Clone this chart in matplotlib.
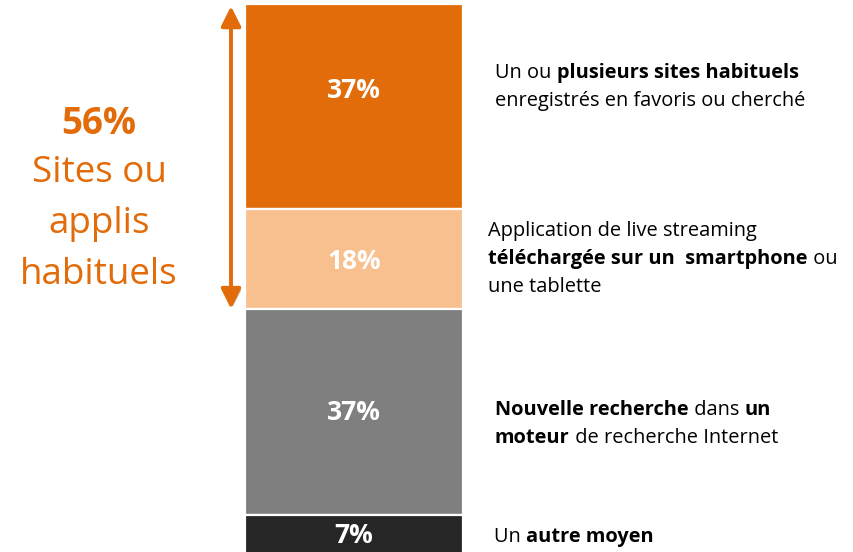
import matplotlib
matplotlib.use('Agg')
import matplotlib.pyplot as plt
import matplotlib.patheffects as pe
from matplotlib.offsetbox import TextArea, HPacker, VPacker, AnnotationBbox
import numpy as np

plt.rcParams['font.family'] = ['Open Sans', 'DejaVu Sans']

# --- DONNÉES ---
parts = [37, 18, 37, 7]
part_labels = ['37%', '18%', '37%', '7%']
colors = ['#E36C0A', '#F9C08F', '#7F7F7F', '#262626']

# descriptions (texte, gras ?) par ligne
descriptions = [
    [[('Un ou ', False), ('plusieurs sites habituels', True)],
     [('enregistrés en favoris ou cherché', False)]],
    [[('Application de live streaming', False)],
     [('téléchargée sur un  smartphone', True), (' ou', False)],
     [('une tablette', False)]],
    [[('Nouvelle recherche', True), (' dans ', False), ('un', True)],
     [('moteur', True), (' de recherche Internet', False)]],
    [[('Un ', False), ('autre moyen', True)]],
]
habit_share = 56
habit_lines = ['Sites ou', 'applis', 'habituels']

# --- MISE EN PAGE (pixels / %) ---
W, H = 854, 552
bar_x, bar_w = 354, 218
label_y = [15.5, 46.3, 73.6, 95.7]
desc_x = [495, 488, 495, 494]
desc_y = [14.9, 45.9, 75.7, 96.0]
arrow_x = 231
orange = '#E36C0A'

fig = plt.figure(figsize=(W / 100, H / 100), dpi=100)
ax = fig.add_axes([0, 0, 1, 1])
ax.set_xlim(0, W)
ax.set_ylim(98.7, -0.72)
ax.axis('off')

bottoms = np.concatenate([[0], np.cumsum(parts)[:-1]])
ax.bar(bar_x, parts, bottom=bottoms, width=bar_w, color=colors,
       edgecolor='white', linewidth=1.6)

for y, lab in zip(label_y, part_labels):
    ax.text(bar_x, y, lab, ha='center', va='center', color='white',
            fontsize=19, fontweight='bold')

for lines, x, y in zip(descriptions, desc_x, desc_y):
    rows = []
    for line in lines:
        pieces = [TextArea(t, textprops=dict(fontsize=14.4, color='black',
                                             fontweight='bold' if bold else 'normal'))
                  for t, bold in line]
        rows.append(HPacker(children=pieces, pad=0, sep=0, align='baseline'))
    box = VPacker(children=rows, pad=0, sep=6.0, align='left')
    ab = AnnotationBbox(box, (x, y), xycoords='data', box_alignment=(0, 0.5),
                        frameon=False, pad=0)
    ax.add_artist(ab)

# double flèche sur la part "habituels"
ax.annotate('', xy=(arrow_x, 0.4), xytext=(arrow_x, 54.9),
            arrowprops=dict(arrowstyle='<|-|>,head_length=1.2,head_width=0.6',
                            color=orange, lw=2.8, shrinkA=0, shrinkB=0,
                            path_effects=[pe.SimplePatchShadow(offset=(1.5, -1.5), alpha=0.25),
                                          pe.Normal()]))

ax.text(99, 21.7, f'{habit_share}%', ha='center', va='center', color=orange,
        fontsize=26.5, fontweight='bold')
for i, t in enumerate(habit_lines):
    ax.text(99, 30.4 + i * 9.2, t, ha='center', va='center', color=orange,
            fontsize=26.5)

fig.savefig('out.png', dpi=100)
